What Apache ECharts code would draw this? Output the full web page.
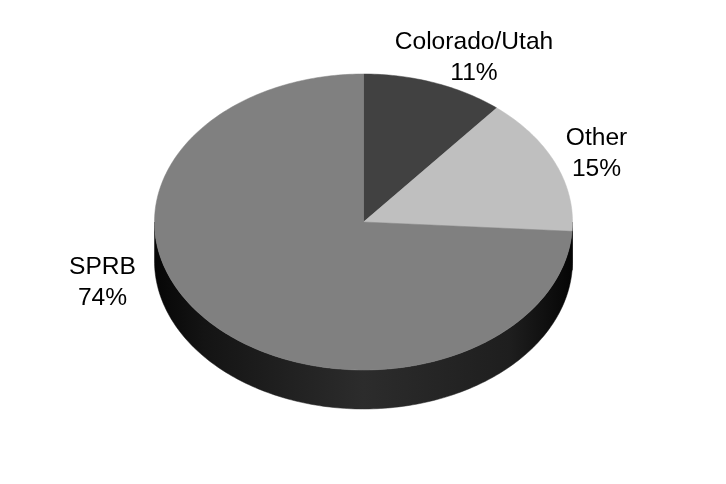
<!DOCTYPE html>
<html>
<head>
<meta charset="utf-8">
<style>html,body{margin:0;padding:0;background:#fff}#c{width:726px;height:484px}</style>
<script src="https://cdn.jsdelivr.net/npm/echarts@6/dist/echarts.min.js"></script>
</head>
<body>
<div id="c"></div>
<script>
const categories = ['Colorado/Utah', 'Other', 'SPRB'];
const values = [11, 15, 74];
const percentLabels = ['11%', '15%', '74%'];

// Presentation only
const topColors = ['#414141', '#bfbfbf', '#808080'];
const labelCenters = [[474, 57.5], [596.5, 153.5], [102.5, 282.5]];
const cx = 363.5, cy = 222, rx = 209, ry = 148, depth = 39;

const chart = echarts.init(document.getElementById('c'), null, { renderer: 'canvas' });
const total = values.reduce((a, b) => a + b, 0);

function pt(deg, dy) {
  const r = deg * Math.PI / 180;
  return [cx + rx * Math.sin(r), cy - ry * Math.cos(r) + (dy || 0)];
}
function arc(a0, a1, dy) {
  const n = Math.max(2, Math.ceil(Math.abs(a1 - a0)));
  const out = [];
  for (let i = 0; i <= n; i++) out.push(pt(a0 + (a1 - a0) * i / n, dy));
  return out;
}
const sideFill = new echarts.graphic.LinearGradient(cx - rx, 0, cx + rx, 0, [
  { offset: 0, color: '#060606' },
  { offset: 0.12, color: '#141414' },
  { offset: 0.5, color: '#2c2c2c' },
  { offset: 0.85, color: '#1e1e1e' },
  { offset: 1, color: '#050505' }
], true);

chart.setOption({
  animation: false,
  backgroundColor: '#ffffff',
  series: [{
    type: 'custom',
    coordinateSystem: 'none',
    silent: true,
    data: values.map((v, i) => ({ name: categories[i], value: v })),
    renderItem(params, api) {
      const i = params.dataIndex;
      let before = 0;
      for (let k = 0; k < i; k++) before += values[k];
      const a0 = before / total * 360;
      const a1 = (before + values[i]) / total * 360;
      const children = [];
      // visible rim: the part of the slice on the front half of the disc
      const s0 = Math.max(a0, 90), s1 = Math.min(a1, 270);
      if (s1 > s0) {
        const rim = arc(s0, s1, 0).concat(arc(s1, s0, depth));
        children.push({
          type: 'polygon',
          shape: { points: rim },
          style: { fill: sideFill, stroke: sideFill, lineWidth: 0.5 }
        });
      }
      children.push({
        type: 'polygon',
        shape: { points: [[cx, cy]].concat(arc(a0, a1, 0)) },
        style: { fill: topColors[i], stroke: topColors[i], lineWidth: 0.5 }
      });
      children.push({
        type: 'text',
        style: {
          text: categories[i] + '\n' + percentLabels[i],
          x: labelCenters[i][0],
          y: labelCenters[i][1],
          align: 'center',
          verticalAlign: 'middle',
          fill: '#000',
          font: '24.6px "Liberation Sans", Arial, sans-serif',
          lineHeight: 31
        }
      });
      return { type: 'group', children };
    }
  }]
});
</script>
</body>
</html>
